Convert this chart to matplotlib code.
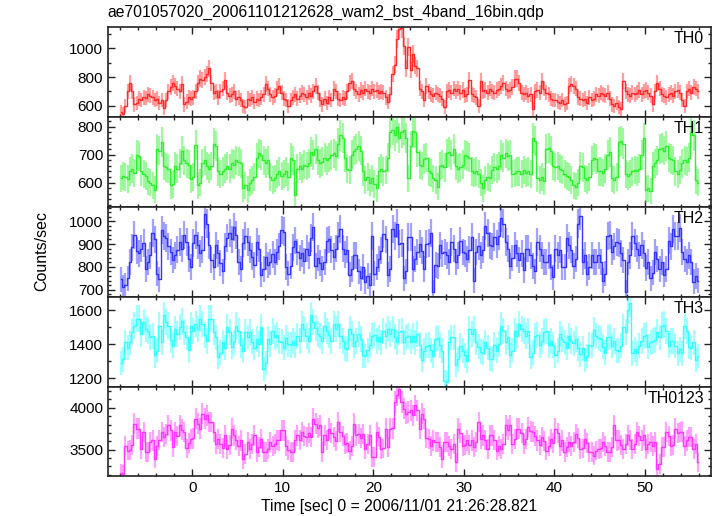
import numpy as np
import matplotlib.pyplot as plt
from matplotlib.ticker import MultipleLocator

plt.rcParams['font.family'] = ['Liberation Sans', 'DejaVu Sans']

title = "ae701057020_20061101212628_wam2_bst_4band_16bin.qdp"
xlabel = "Time [sec] 0 = 2006/11/01 21:26:28.821"
t_start = -8.0      # start of first bin (sec)
bin_width = 0.25    # 16 x 1/64 s

# count rates (counts/sec), 4 bins per second
th0 = [
    560, 545, 600, 700,  760, 700, 610, 620,  650, 640, 660, 655,  680, 670, 660, 640,
    650, 620, 640, 585,  640, 700, 730, 760,  740, 720, 700, 750,  610, 630, 660, 650,
    660, 700, 760, 790,  780, 800, 820, 860,  760, 690, 700, 660,  700, 720, 780, 690,
    670, 680, 700, 650,  660, 640, 600, 590,  650, 640, 660, 630,  650, 640, 660, 680,
    750, 720, 680, 660,  670, 720, 740, 690,  650, 640, 600, 640,  660, 680, 650, 670,
    690, 680, 660, 690,  670, 700, 740, 690,  640, 610, 650, 620,  660, 640, 720, 700,
    650, 640, 660, 650,  700, 760, 770, 720,  700, 680, 710, 690,  720, 700, 690, 720,
    700, 710, 690, 700,  690, 660, 630, 680,  820, 885, 1065, 1135,  1140, 1015, 860, 1010,
    850, 960, 880, 860,  720, 700, 640, 740,  700, 680, 670, 690,  680, 670, 650, 590,
    700, 710, 690, 720,  700, 720, 690, 710,  670, 680, 780, 680,  670, 660, 600, 770,
    700, 710, 690, 720,  700, 690, 710, 720,  740, 760, 720, 700,  710, 730, 790, 790,
    760, 690, 680, 690,  670, 680, 580, 700,  710, 690, 770, 720,  690, 680, 650, 640,
    640, 630, 620, 640,  610, 620, 740, 750,  740, 720, 660, 650,  640, 650, 620, 660,
    640, 650, 680, 670,  690, 680, 670, 690,  650, 610, 600, 620,  590, 580, 770, 700,
    680, 670, 690, 680,  690, 710, 680, 700,  710, 690, 670, 610,  700, 760, 720, 680,
    670, 660, 680, 690,  670, 700, 710, 690,  640, 600, 700, 720,  690, 730, 720, 700,
]
th1 = [
    615, 625, 620, 612,  640, 650, 635, 700,  695, 640, 630, 625,  605, 600, 590, 575,
    720, 715, 745, 660,  655, 650, 590, 595,  660, 650, 670, 715,  680, 670, 665, 614,
    620, 735, 590, 600,  670, 680, 660, 650,  660, 740, 730, 640,  630, 640, 650, 660,
    650, 670, 665, 680,  675, 670, 580, 590,  575, 600, 610, 620,  690, 705, 700, 680,
    670, 680, 620, 610,  615, 630, 640, 625,  630, 640, 620, 690,  680, 555, 650, 660,
    650, 665, 660, 670,  710, 700, 720, 680,  670, 675, 690, 680,  690, 700, 705, 695,
    740, 770, 760, 690,  650, 645, 700, 715,  720, 730, 715, 640,  610, 620, 600, 615,
    595, 580, 640, 650,  640, 645, 690, 780,  790, 770, 800, 760,  780, 790, 760, 615,
    730, 785, 780, 710,  665, 660, 685, 690,  640, 635, 615, 610,  585, 660, 665, 655,
    705, 710, 700, 720,  660, 650, 655, 665,  700, 695, 690, 640,  635, 640, 630, 600,
    580, 610, 620, 615,  645, 655, 650, 660,  700, 690, 705, 695,  700, 630, 635, 640,
    640, 630, 645, 635,  640, 630, 760, 750,  615, 610, 620, 605,  720, 725, 715, 660,
    655, 660, 650, 645,  630, 625, 620, 610,  590, 585, 600, 660,  655, 615, 610, 620,
    680, 690, 685, 640,  640, 635, 650, 700,  710, 615, 610, 620,  745, 750, 740, 630,
    625, 630, 640, 645,  640, 650, 700, 760,  575, 580, 570, 660,  670, 680, 720, 725,
    715, 730, 690, 685,  680, 640, 630, 645,  670, 680, 675, 690,  780, 770, 610, 600,
]
th2 = [
    745, 710, 720, 750,  820, 885, 940, 870,  860, 880, 905, 790,  820, 850, 950, 920,
    770, 745, 960, 935,  925, 890, 865, 830,  850, 875, 910, 880,  940, 910, 835, 800,
    905, 940, 895, 860,  875, 1030, 990, 895,  830, 800, 895, 860,  815, 780, 890, 925,
    950, 920, 975, 940,  820, 790, 905, 935,  910, 875, 845, 810,  910, 880, 765, 790,
    845, 810, 820, 855,  820, 865, 890, 960,  955, 800, 770, 805,  885, 915, 865, 840,
    860, 825, 880, 850,  925, 975, 805, 840,  815, 790, 820, 915,  920, 875, 845, 880,
    935, 965, 880, 855,  875, 765, 790, 850,  850, 780, 750, 800,  735, 760, 720, 935,
    770, 800, 835, 870,  945, 920, 765, 790,  965, 935, 990, 900,  905, 750, 780, 930,
    930, 790, 835, 865,  900, 870, 790, 900,  905, 950, 690, 810,  805, 895, 860, 865,
    850, 820, 910, 880,  820, 850, 915, 865,  860, 835, 875, 930,  740, 865, 890, 850,
    875, 980, 950, 895,  890, 930, 900, 935,  1015, 990, 910, 880,  805, 840, 895, 860,
    830, 860, 785, 880,  880, 850, 805, 780,  910, 880, 850, 820,  820, 850, 800, 755,
    880, 850, 875, 800,  800, 925, 895, 875,  805, 835, 990, 1025,  820, 850, 770, 800,
    850, 820, 820, 850,  820, 740, 770, 935,  940, 865, 890, 910,  905, 860, 830, 690,
    820, 850, 935, 905,  880, 850, 895, 860,  795, 820, 750, 775,  865, 835, 790, 820,
    765, 790, 915, 890,  965, 935, 935, 970,  865, 835, 820, 850,  820, 735, 760, 740,
]
th3 = [
    1290, 1310, 1410, 1380,  1410, 1470, 1510, 1550,  1550, 1460, 1530, 1490,  1475, 1440, 1450, 1335,
    1360, 1510, 1410, 1570,  1530, 1510, 1425, 1390,  1490, 1460, 1500, 1535,  1470, 1440, 1365, 1510,
    1480, 1520, 1490, 1550,  1520, 1455, 1420, 1550,  1550, 1470, 1440, 1325,  1350, 1410, 1380, 1500,
    1470, 1385, 1410, 1510,  1480, 1395, 1360, 1470,  1440, 1470, 1415, 1380,  1430, 1400, 1500, 1255,
    1290, 1430, 1400, 1475,  1440, 1455, 1420, 1415,  1380, 1435, 1400, 1395,  1420, 1395, 1450, 1420,
    1520, 1490, 1450, 1420,  1570, 1530, 1495, 1460,  1450, 1420, 1510, 1480,  1455, 1420, 1520, 1490,
    1520, 1450, 1420, 1375,  1370, 1490, 1460, 1390,  1420, 1460, 1430, 1335,  1330, 1365, 1395, 1450,
    1455, 1420, 1440, 1410,  1480, 1450, 1490, 1460,  1490, 1445, 1410, 1470,  1475, 1410, 1440, 1450,
    1415, 1450, 1410, 1460,  1395, 1305, 1360, 1390,  1395, 1365, 1330, 1430,  1435, 1395, 1360, 1180,
    1175, 1410, 1440, 1440,  1275, 1310, 1390, 1360,  1335, 1300, 1490, 1460,  1490, 1410, 1385, 1355,
    1350, 1410, 1380, 1315,  1310, 1395, 1360, 1400,  1510, 1480, 1410, 1440,  1335, 1360, 1480, 1450,
    1520, 1490, 1480, 1450,  1480, 1325, 1350, 1450,  1455, 1395, 1420, 1470,  1475, 1395, 1420, 1395,
    1335, 1360, 1460, 1430,  1410, 1380, 1450, 1420,  1405, 1430, 1375, 1340,  1375, 1305, 1330, 1395,
    1390, 1485, 1450, 1435,  1430, 1385, 1350, 1440,  1445, 1390, 1420, 1365,  1360, 1390, 1500, 1470,
    1600, 1640, 1345, 1370,  1345, 1390, 1420, 1450,  1455, 1385, 1410, 1420,  1425, 1470, 1440, 1510,
    1515, 1480, 1390, 1420,  1420, 1390, 1345, 1370,  1345, 1510, 1480, 1385,  1380, 1410, 1305, 1330,
]
th0123 = [
    3220, 3210, 3550, 3490,  3500, 3560, 3810, 3750,  3750, 3510, 3710, 3470,  3475, 3590, 3610, 3395,
    3550, 3620, 3710, 3650,  3690, 3790, 3730, 3530,  3710, 3660, 3790, 3740,  3710, 3515, 3580, 3630,
    3635, 3870, 3810, 3750,  3930, 3870, 3910, 3830,  3830, 3710, 3570, 3630,  3570, 3520, 3670, 3510,
    3560, 3750, 3670, 3620,  3550, 3610, 3390, 3450,  3590, 3510, 3570, 3670,  3470, 3530, 3630, 3470,
    3475, 3510, 3590, 3540,  3570, 3620, 3610, 3730,  3730, 3550, 3500, 3470,  3475, 3610, 3670, 3620,
    3710, 3660, 3650, 3700,  3650, 3870, 3810, 3760,  3790, 3470, 3670, 3620,  3750, 3700, 3650, 3600,
    3830, 3710, 3660, 3570,  3575, 3490, 3550, 3810,  3670, 3690, 3640, 3690,  3510, 3570, 3670, 3410,
    3415, 3710, 3650, 3510,  3515, 3750, 3530, 3750,  3755, 4070, 4150, 4230,  4070, 3990, 3930, 3950,
    3970, 3910, 4030, 3970,  3750, 3930, 3870, 3640,  3630, 3550, 3610, 3590,  3595, 3530, 3395, 3590,
    3590, 3540, 3510, 3570,  3350, 3750, 3700, 3550,  3555, 3610, 3560, 3610,  3530, 3590, 3830, 3630,
    3670, 3620, 3510, 3670,  3670, 3620, 3490, 3550,  3510, 3570, 3790, 3740,  3790, 3570, 3630, 3750,
    3750, 3700, 3570, 3630,  3770, 3720, 3710, 3660,  3610, 3560, 3650, 3600,  3490, 3550, 3630, 3580,
    3750, 3700, 3550, 3610,  3470, 3530, 3590, 3540,  3590, 3690, 3640, 3510,  3515, 3630, 3580, 3470,
    3475, 3430, 3490, 3510,  3515, 3590, 3540, 3470,  3475, 3530, 3790, 3610,  3615, 3560, 3510, 3570,
    3670, 3620, 3510, 3570,  3710, 3660, 3610, 3670,  3510, 3570, 3590, 3540,  3590, 3270, 3330, 3530,
    3535, 3710, 3660, 3550,  3555, 3750, 3700, 3710,  3715, 3550, 3610, 3650,  3655, 3510, 3570, 3350,
]

names = ["TH0", "TH1", "TH2", "TH3", "TH0123"]
series = [th0, th1, th2, th3, th0123]
colors = ["#ff2a2a", "#2ef02e", "#3434ff", "#34ffff", "#ff34ff"]
ylims = [(522, 1146), (513, 835), (669, 1063), (1150, 1680), (3183, 4254)]
majors = [200, 100, 100, 200, 500]
minors = [100, 20, 20, 100, 100]

fig = plt.figure(figsize=(7.17, 5.16), dpi=100)
top, bottom = 1 - 27.3 / 516, 1 - 476.3 / 516
left, right = 108 / 717, 711 / 717
h = (top - bottom) / 5

for i, (name, y) in enumerate(zip(names, series)):
    ax = fig.add_axes([left, top - (i + 1) * h, right - left, h])
    y = np.array(y, dtype=float)
    t = t_start + bin_width * (np.arange(len(y)) + 0.5)
    err = np.sqrt(y / bin_width)  # poisson error of the rate
    ax.errorbar(t, y, yerr=err, fmt='none', ecolor=colors[i], elinewidth=1.6, alpha=0.45)
    ax.step(t, y, where='mid', color=colors[i], lw=1.0)
    ax.set_xlim(-9.3, 57.3)
    ax.set_ylim(*ylims[i])
    ax.xaxis.set_major_locator(MultipleLocator(10))
    ax.xaxis.set_minor_locator(MultipleLocator(2))
    ax.yaxis.set_major_locator(MultipleLocator(majors[i]))
    ax.yaxis.set_minor_locator(MultipleLocator(minors[i]))
    ax.tick_params(which='both', direction='in', top=True, right=True, labelsize=11, color='#222222')
    ax.tick_params(which='major', length=5, width=1)
    ax.tick_params(which='minor', length=2.5, width=1)
    for s in ax.spines.values():
        s.set_linewidth(1.2)
        s.set_color('#222222')
    if i < 4:
        ax.tick_params(labelbottom=False)
    ax.text(0.988, 0.955, name, transform=ax.transAxes, ha='right', va='top', fontsize=11.5)

fig.text(107 / 717, 1 - 12 / 516, title, ha='left', va='center', fontsize=11.3)
fig.text(399 / 717, 1 - 507 / 516, xlabel, ha='center', va='center', fontsize=11.3)
fig.text(42 / 717, 1 - 251 / 516, "Counts/sec", ha='center', va='center', rotation=90, fontsize=11.5)

fig.savefig("out.png", dpi=100)
